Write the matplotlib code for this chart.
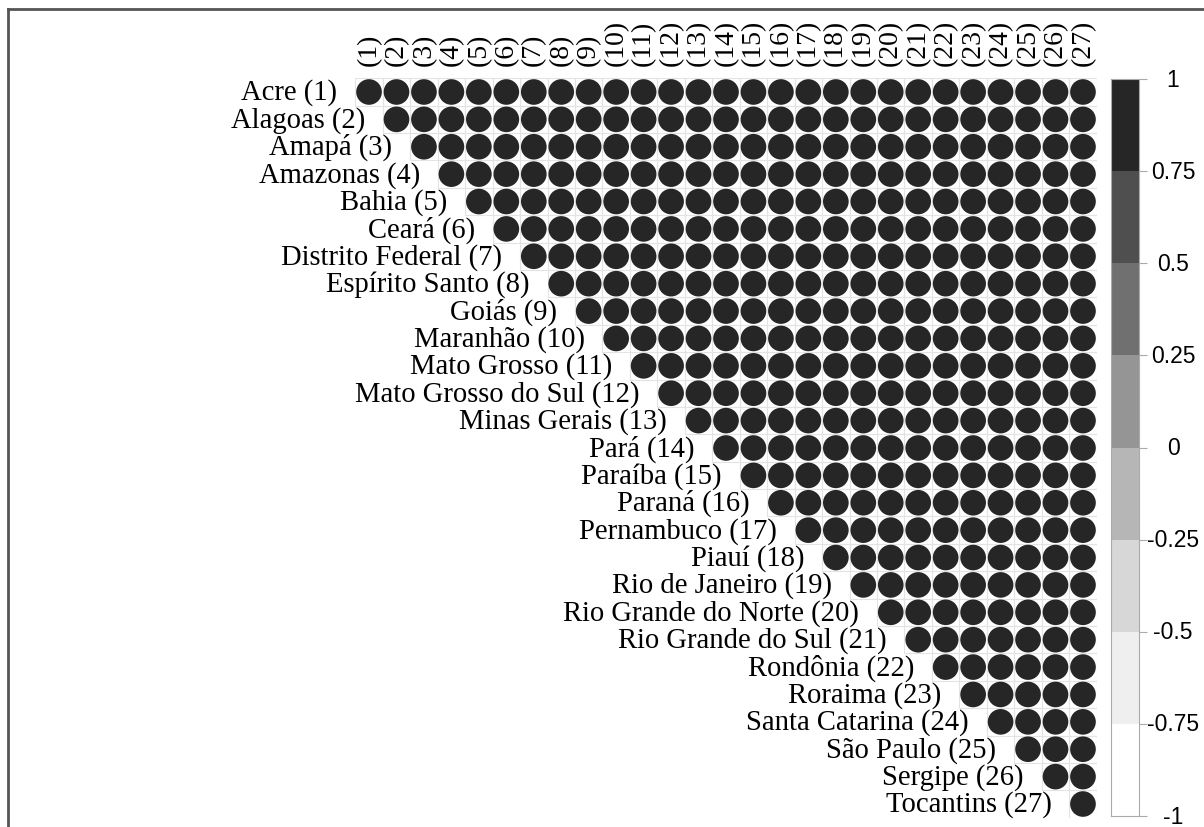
import numpy as np
import matplotlib
matplotlib.use("Agg")
import matplotlib.pyplot as plt
from matplotlib.patches import Circle, Rectangle

# states of Brazil (rows / columns of the correlogram)
states = ["Acre", "Alagoas", "Amapá", "Amazonas", "Bahia", "Ceará",
          "Distrito Federal", "Espírito Santo", "Goiás", "Maranhão",
          "Mato Grosso", "Mato Grosso do Sul", "Minas Gerais", "Pará",
          "Paraíba", "Paraná", "Pernambuco", "Piauí", "Rio de Janeiro",
          "Rio Grande do Norte", "Rio Grande do Sul", "Rondônia", "Roraima",
          "Santa Catarina", "São Paulo", "Sergipe", "Tocantins"]
n = len(states)

# every pairwise correlation reads as ~1 (all circles full size, darkest shade)
corr_rows = [[0.99] * n for _ in range(n)]
corr = np.array(corr_rows)

# colour legend
cbar_ticks = [1, 0.75, 0.5, 0.25, 0, -0.25, -0.5, -0.75, -1]
cbar_labels = ["1", "0.75", "0.5", "0.25", "0", "-0.25", "-0.5", "-0.75", "-1"]
bin_colors = ["#262626", "#4f4f4f", "#707070", "#959595",
              "#b6b6b6", "#d7d7d7", "#efefef", "#ffffff"]  # top (1) -> bottom (-1)

W, H = 1204, 828
fig = plt.figure(figsize=(W / 100, H / 100), dpi=100)

def px_axes(x0, y0, x1, y1):
    return fig.add_axes([x0 / W, 1 - y1 / H, (x1 - x0) / W, (y1 - y0) / H])

def color_for(v):
    idx = int(np.clip(np.floor((1 - v) / 0.25), 0, 7))
    return bin_colors[idx]

ax = px_axes(355.3, 79.3, 1096.7, 818.7)
ax.set_xlim(0, n)
ax.set_ylim(n, 0)
ax.axis("off")

serif = ["Liberation Serif", "DejaVu Serif"]
for i in range(n):
    for j in range(i, n):
        ax.add_patch(Rectangle((j, i), 1, 1, facecolor="none",
                               edgecolor="#e3e3e3", lw=0.8))
        v = corr[i, j]
        r = 0.47 * np.sqrt(abs(v))
        ax.add_patch(Circle((j + 0.5, i + 0.5), r, facecolor=color_for(v),
                            edgecolor="none"))
    ax.text(i - 0.65, i + 0.5, f"{states[i]} ({i + 1})", ha="right",
            va="center", fontsize=20.6, family=serif, clip_on=False)
    ax.text(i + 0.5, -0.5, f"({i + 1})", ha="center", va="bottom",
            rotation=90, fontsize=20, family=serif, clip_on=False)

# colour bar
cax = px_axes(1111, 80, 1139, 817)
cax.set_xlim(0, 1)
cax.set_ylim(-1, 1)
for k, c in enumerate(bin_colors):
    top = 1 - 0.25 * k
    cax.add_patch(Rectangle((0, top - 0.25), 1, 0.25, facecolor=c,
                            edgecolor="none"))
for s in cax.spines.values():
    s.set_color("#aaaaaa")
    s.set_linewidth(0.8)
cax.set_xticks([])
cax.yaxis.tick_right()
cax.set_yticks(cbar_ticks)
cax.set_yticklabels([])
cax.tick_params(axis="y", length=6, color="#aaaaaa", width=0.8)
for t, lab in zip(cbar_ticks, cbar_labels):
    cax.text(1.0 + 34 / 28, t, lab, ha="center", va="center", fontsize=16.5,
             family=["Liberation Sans", "DejaVu Sans"], clip_on=False)

# frame around the figure snippet
fig.add_artist(plt.Line2D([8 / W, 1], [1 - 10 / H, 1 - 10 / H],
                          transform=fig.transFigure, color="#555555", lw=2))
fig.add_artist(plt.Line2D([8 / W, 8 / W], [0, 1 - 10 / H],
                          transform=fig.transFigure, color="#555555", lw=2))

fig.savefig("out.png", dpi=100)
